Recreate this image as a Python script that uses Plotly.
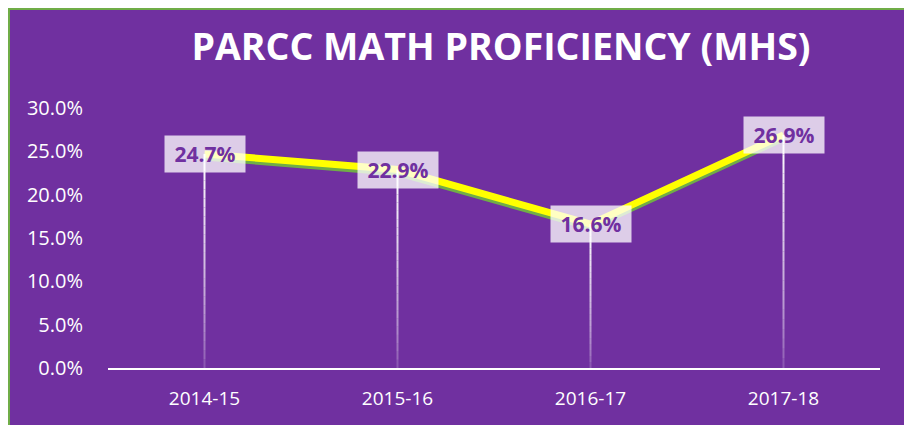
import plotly.graph_objects as go

# ---- data ----
categories = ["2014-15", "2015-16", "2016-17", "2017-18"]
proficiency = [0.247, 0.229, 0.166, 0.269]
y_ticks = [0.0, 0.05, 0.10, 0.15, 0.20, 0.25, 0.30]
title_text = "PARCC MATH PROFICIENCY (MHS)"

PURPLE = "#7030A0"
GREEN = "#70AD47"
YELLOW = "#FFFF00"
FONT = "Open Sans"

# page has an 8px body margin; figure coordinates are page - 8
OFF = 8
W, H = 912 - OFF, 425 - OFF
L, R = 108 - OFF, 912 - 880
T, B = 108 - OFF, 425 - 368
pw, ph = W - L - R, H - T - B

fig = go.Figure()

# shadow line (green) on the hidden primary axis, shifted a few pixels down
shift = 3 / ph * 0.30
fig.add_trace(go.Scatter(x=categories, y=proficiency, mode="lines",
                         line=dict(color=GREEN, width=7), yaxis="y",
                         hoverinfo="skip", showlegend=False))
fig.add_trace(go.Scatter(x=categories, y=proficiency, mode="lines",
                         line=dict(color=YELLOW, width=7), yaxis="y2",
                         showlegend=False))

shapes = []
# background panel with green border
shapes.append(dict(type="rect", xref="paper", yref="paper",
                   x0=(1 - L) / pw, x1=(899.5 - L) / pw,
                   y0=-(B + 20) / ph, y1=(H - B - 1) / ph,
                   fillcolor=PURPLE, line=dict(color=GREEN, width=2), layer="below"))

# fading drop lines
nseg = 24
for i, (c, v) in enumerate(zip(categories, proficiency)):
    for k in range(nseg):
        y0 = v * k / nseg
        y1 = v * (k + 1) / nseg
        a = 0.10 + 0.90 * ((k + 0.5) / nseg) ** 0.6
        shapes.append(dict(type="line", xref="x", yref="y2", x0=i, x1=i, y0=y0, y1=y1,
                           line=dict(color=f"rgba(255,255,255,{a:.3f})", width=2),
                           layer="above"))

annotations = []
for c, v in zip(categories, proficiency):
    annotations.append(dict(x=c, y=v, xref="x", yref="y2", text=f"<b> {v*100:.1f}% </b>",
                            showarrow=False, font=dict(family=FONT, size=21, color=PURPLE),
                            bgcolor="rgba(255,255,255,0.76)", borderpad=4,
                            xanchor="center", yanchor="middle"))

fig.update_layout(
    width=W, height=H,
    margin=dict(l=L, r=R, t=T, b=B),
    paper_bgcolor="white",
    plot_bgcolor="rgba(0,0,0,0)",
    shapes=shapes,
    annotations=annotations,
    title=dict(text=f"<b>{title_text}</b>", x=(501 - OFF) / W, xref="container", xanchor="center",
               y=1 - (47 - OFF) / H, yref="container", yanchor="middle",
               font=dict(family=FONT, size=37.5, color="white")),
    xaxis=dict(type="category", range=[-0.5, 3.5], showgrid=False, zeroline=False,
               showline=True, linecolor="white", linewidth=2,
               ticks="", tickfont=dict(family=FONT, size=19, color="white"),
               ticklabelstandoff=12),
    yaxis=dict(range=[0 + shift, 0.30 + shift], visible=False,
               showgrid=False, zeroline=False),
    yaxis2=dict(range=[0, 0.30], overlaying="y", side="left", tickvals=y_ticks,
                tickformat=".1%", showgrid=False, zeroline=False, showline=False, ticks="",
                tickfont=dict(family=FONT, size=20, color="white"),
                ticklabelstandoff=24),
    showlegend=False,
)

fig.write_html("out.html")
